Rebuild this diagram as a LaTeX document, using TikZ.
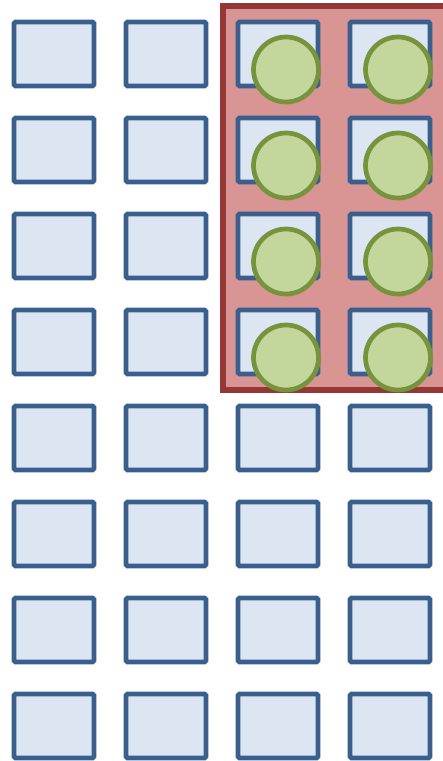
\documentclass[tikz,border=0pt]{standalone}
\definecolor{boxfill}{HTML}{DCE6F2}
\definecolor{boxline}{HTML}{3A5F8C}
\definecolor{selfill}{HTML}{D99594}
\definecolor{selline}{HTML}{953735}
\definecolor{dotfill}{HTML}{C3D69B}
\definecolor{dotline}{HTML}{77933C}
\tikzset{
  cell/.style={draw=boxline, fill=boxfill, line width=4.7pt, rounded corners=1.5pt,
    minimum width=80pt, minimum height=64pt, inner sep=0pt},
  dot/.style={circle, draw=dotline, fill=dotfill, line width=4.7pt,
    minimum size=65pt, inner sep=0pt},
  sel/.style={draw=selline, fill=selfill, line width=6pt}
}
\begin{document}
\begin{tikzpicture}[x=1pt,y=-1pt]
\useasboundingbox (0,0) rectangle (443,761);
\clip (0,0) rectangle (443,761);
\fill[white] (0,0) rectangle (443,761);
\draw[sel] (222.5,6.3) rectangle (470,389.5);
\foreach \c in {1,...,4}{
  \foreach \r in {1,...,8}{
    \node[cell] (b\c-\r) at ({54+112*(\c-1)},{54+96*(\r-1)}) {};
  }
}
\foreach \c in {3,4}{
  \foreach \r in {1,...,4}{
    \node[dot] (d\c-\r) at ({286+112*(\c-3)},{69.5+96*(\r-1)}) {};
  }
}
\end{tikzpicture}
\end{document}
